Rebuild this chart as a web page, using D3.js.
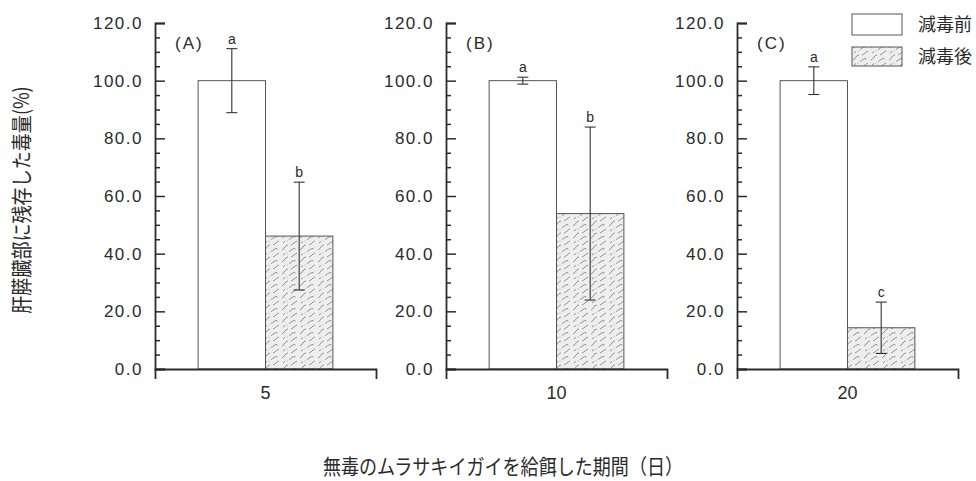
<!DOCTYPE html>
<html>
<head>
<meta charset="utf-8">
<script src="https://cdn.jsdelivr.net/npm/d3@7"></script>
<style>
  body { margin: 0; background: #fff; }
  text { fill: #2a2a2a; }
</style>
</head>
<body>
<svg id="chart" width="976" height="481"></svg>
<script>
// Days of feeding non-toxic mussels, one panel each
const days = ["5", "10", "20"];
const panelTags = ["(A)", "(B)", "(C)"];
const groups = ["減毒前", "減毒後"];

// Toxin remaining in the hepatopancreas (%), mean and SD
const beforeMean = [100, 100, 100];
const beforeSd = [11.1, 1.2, 4.8];
const afterMean = [46.1, 53.9, 14.3];
const afterSd = [18.7, 30.0, 8.9];
const beforeLetters = ["a", "a", "a"];
const afterLetters = ["b", "b", "c"];

const yTicks = [0, 20, 40, 60, 80, 100, 120];
const yMinorTicks = [5, 10, 15, 25, 30, 35, 45, 50, 55, 65, 70, 75, 85, 90, 95, 105, 110, 115];

const yAxisTitle = "肝膵臓部に残存した毒量(%)";
const xAxisTitle = "無毒のムラサキイガイを給餌した期間（日）";

const svg = d3.select("#chart");
const defs = svg.append("defs");

// Stippled, scribbled fill used for the post-treatment bars
const pat = defs.append("pattern")
  .attr("id", "stipple")
  .attr("patternUnits", "userSpaceOnUse")
  .attr("width", 18).attr("height", 12);
pat.append("rect").attr("width", 18).attr("height", 12).attr("fill", "#eeeeee");
pat.append("path")
  .attr("d", "M1,10 q2,-1 3,-3 t3,-2 M10,5 q2,-1 3,-2 t3,-2 M8,11.5 q2,-1 3,-2 t3,-1 M2,3 l2,-1.5")
  .attr("stroke", "#7a7a7a").attr("stroke-width", 0.8).attr("fill", "none");
pat.append("circle").attr("cx", 14).attr("cy", 9).attr("r", 0.5).attr("fill", "#999");
pat.append("circle").attr("cx", 6).attr("cy", 1).attr("r", 0.5).attr("fill", "#999");

const panelWidth = 221;
const panelX = d3.scaleBand().domain(days).range([155, 1028]);
const y = d3.scaleLinear().domain([0, 120]).range([369, 23]);
const x = d3.scaleBand().domain(groups).range([0, panelWidth]).paddingInner(0).paddingOuter(0.64);

const fills = { "減毒前": "#ffffff", "減毒後": "url(#stipple)" };

const axisColor = "#2b2b2b";
const tickFont = "Liberation Sans, Arial, sans-serif";
const cjkFont = "Noto Sans CJK JP, sans-serif";

days.forEach((day, i) => {
  const g = svg.append("g").attr("transform", `translate(${panelX(day)},0)`);

  const rows = [
    { group: groups[0], mean: beforeMean[i], sd: beforeSd[i], letter: beforeLetters[i] },
    { group: groups[1], mean: afterMean[i], sd: afterSd[i], letter: afterLetters[i] }
  ];

  // bars
  g.selectAll("rect.bar").data(rows).join("rect")
    .attr("class", "bar")
    .attr("x", d => x(d.group))
    .attr("y", d => y(d.mean))
    .attr("width", x.bandwidth())
    .attr("height", d => y(0) - y(d.mean))
    .attr("fill", d => fills[d.group])
    .attr("stroke", "#555")
    .attr("stroke-width", 1);

  // error bars
  const cx = d => x(d.group) + x.bandwidth() / 2;
  const eb = g.selectAll("g.err").data(rows).join("g").attr("class", "err")
    .attr("stroke", "#333").attr("stroke-width", 1.1);
  eb.append("line").attr("x1", cx).attr("x2", cx)
    .attr("y1", d => y(d.mean + d.sd)).attr("y2", d => y(d.mean - d.sd));
  eb.append("line").attr("x1", d => cx(d) - 5.5).attr("x2", d => cx(d) + 5.5)
    .attr("y1", d => y(d.mean + d.sd)).attr("y2", d => y(d.mean + d.sd));
  eb.append("line").attr("x1", d => cx(d) - 5.5).attr("x2", d => cx(d) + 5.5)
    .attr("y1", d => y(d.mean - d.sd)).attr("y2", d => y(d.mean - d.sd));

  // significance letters
  g.selectAll("text.sig").data(rows).join("text")
    .attr("class", "sig")
    .attr("x", cx)
    .attr("y", d => y(d.mean + d.sd) - 5)
    .attr("text-anchor", "middle")
    .style("font-family", tickFont)
    .style("font-size", "14px")
    .text(d => d.letter);

  // y axis: major ticks pointing inward
  const yAxis = g.append("g").call(
    d3.axisLeft(y).tickValues(yTicks).tickFormat(d3.format(".1f"))
      .tickSizeInner(-10).tickSizeOuter(-10).tickPadding(12)
  );
  yAxis.select(".domain").attr("stroke", axisColor).attr("stroke-width", 1.8);
  yAxis.selectAll(".tick line").attr("stroke", axisColor).attr("stroke-width", 1.5);
  yAxis.selectAll(".tick text")
    .style("font-family", tickFont).style("font-size", "17px")
    .style("letter-spacing", "1.5px").attr("fill", "#2a2a2a");

  // minor ticks
  const yMinor = g.append("g").call(
    d3.axisLeft(y).tickValues(yMinorTicks).tickFormat("").tickSizeInner(-5).tickSizeOuter(0)
  );
  yMinor.select(".domain").remove();
  yMinor.selectAll(".tick line").attr("stroke", axisColor).attr("stroke-width", 1.5);

  // x axis with the day label
  const xAxis = g.append("g").attr("transform", `translate(0,${y(0)})`).call(
    d3.axisBottom(d3.scaleBand().domain([day]).range([0, panelWidth]))
      .tickSizeInner(0).tickSizeOuter(10).tickPadding(17)
  );
  xAxis.select(".domain").attr("stroke", axisColor).attr("stroke-width", 1.8);
  xAxis.selectAll(".tick text")
    .style("font-family", tickFont).style("font-size", "18px").attr("fill", "#2a2a2a");

  // panel tag
  g.append("text")
    .attr("x", 20).attr("y", 49)
    .style("font-family", tickFont).style("font-size", "17px")
    .style("letter-spacing", "2px")
    .text(panelTags[i]);
});

// legend
const legend = svg.append("g").attr("transform", "translate(852,14)");
const legendRows = [
  { group: groups[0], y: 0, h: 21 },
  { group: groups[1], y: 33, h: 19 }
];
legend.selectAll("rect").data(legendRows).join("rect")
  .attr("x", 0).attr("y", d => d.y)
  .attr("width", 50).attr("height", d => d.h)
  .attr("fill", d => fills[d.group])
  .attr("stroke", "#555").attr("stroke-width", 1);
legend.selectAll("text").data(legendRows).join("text")
  .attr("x", 66).attr("y", d => d.y + d.h / 2 + 6)
  .style("font-family", cjkFont)
  .style("font-size", "18px")
  .text(d => d.group);

// axis titles
svg.append("text")
  .attr("transform", "translate(29,200) rotate(-90) scale(0.86,1)")
  .attr("text-anchor", "middle")
  .style("font-family", cjkFont)
  .style("font-size", "21px")
  .text(yAxisTitle);

svg.append("text")
  .attr("transform", "translate(503,474) scale(0.86,1)")
  .attr("text-anchor", "middle")
  .style("font-family", cjkFont)
  .style("font-size", "21px")
  .text(xAxisTitle);
</script>
</body>
</html>
